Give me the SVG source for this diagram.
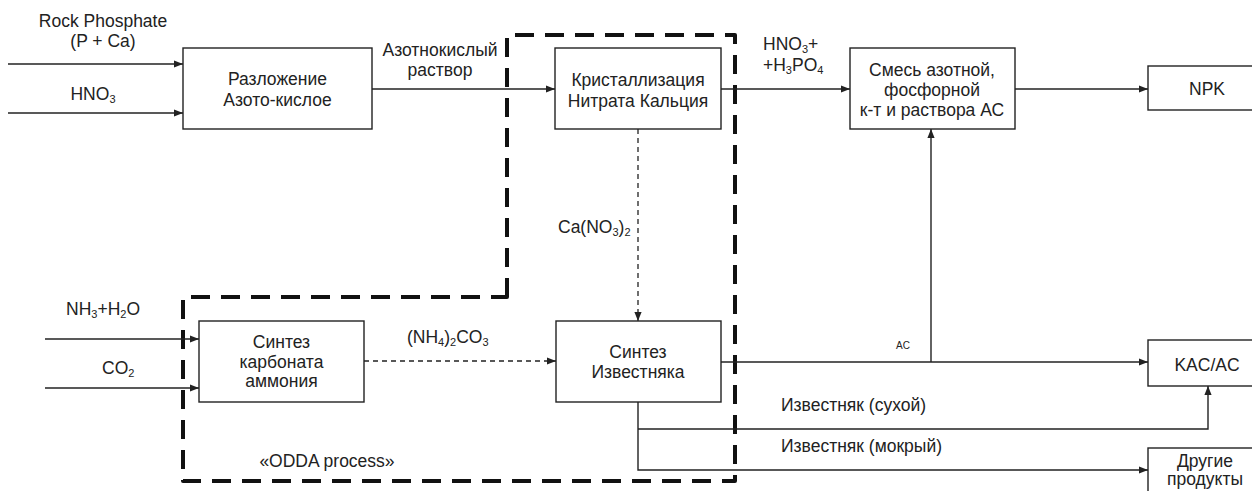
<svg xmlns="http://www.w3.org/2000/svg" width="1252" height="491" viewBox="0 0 1252 491">
<style>
text{font-family:"Liberation Sans",Arial,sans-serif;font-size:17.5px;fill:#222}
.box{fill:#fff;stroke:#222;stroke-width:1.4}
.c{text-anchor:middle}
.ln{fill:none;stroke:#222;stroke-width:1.4}
.dl{fill:none;stroke:#222;stroke-width:1.3;stroke-dasharray:5 4}
.sub{font-size:11px}
.sm{font-size:10px}
</style>
<defs>
<marker id="ah" viewBox="0 0 10 10" refX="10" refY="5" markerWidth="9" markerHeight="9" markerUnits="userSpaceOnUse" orient="auto">
<path d="M0,1 L10,5 L0,9 Z" fill="#222"/>
</marker>
</defs>
<rect width="1252" height="491" fill="#fff"/>

<g id="boundary">
<path d="M507,297 L507,35 L735,35 L735,481 L183,481 L183,297 Z" fill="none" stroke="#111" stroke-width="4" stroke-dasharray="19 11" stroke-linejoin="round"/>
<text class="c" x="327" y="467">«ODDA process»</text>
</g>

<g id="connectors">
<path class="ln" d="M8,64 L183,64" marker-end="url(#ah)"/>
<path class="ln" d="M8,113 L183,113" marker-end="url(#ah)"/>
<path class="ln" d="M372,89 L555,89" marker-end="url(#ah)"/>
<path class="ln" d="M721,89 L850,89" marker-end="url(#ah)"/>
<path class="ln" d="M1015,89 L1148,89" marker-end="url(#ah)"/>
<path class="dl" d="M638,129 L638,321" marker-end="url(#ah)"/>
<path class="ln" d="M45,339 L199,339" marker-end="url(#ah)"/>
<path class="ln" d="M45,388 L199,388" marker-end="url(#ah)"/>
<path class="dl" d="M364,361 L556,361" marker-end="url(#ah)"/>
<path class="ln" d="M721,362 L1148,362" marker-end="url(#ah)"/>
<path class="ln" d="M931,362 L931,129" marker-end="url(#ah)"/>
<path class="ln" d="M638,402 L638,470 L1148,470" marker-end="url(#ah)"/>
<path class="ln" d="M638,429 L1208,429 L1208,386" marker-end="url(#ah)"/>
<text class="c" x="103" y="27">Rock Phosphate</text>
<text class="c" x="103" y="47">(P + Ca)</text>
<text class="c" x="93" y="100">HNO<tspan class="sub" dy="3">3</tspan></text>
<text class="c" x="440" y="56">Азотнокислый</text>
<text class="c" x="440" y="76">раствор</text>
<text x="763" y="50">HNO<tspan class="sub" dy="3">3</tspan><tspan dy="-3">+</tspan></text>
<text x="763" y="71">+H<tspan class="sub" dy="3">3</tspan><tspan dy="-3">PO</tspan><tspan class="sub" dy="3">4</tspan></text>
<text x="558" y="233">Ca(NO<tspan class="sub" dy="3">3</tspan><tspan dy="-3">)</tspan><tspan class="sub" dy="3">2</tspan></text>
<text x="66" y="315">NH<tspan class="sub" dy="3">3</tspan><tspan dy="-3">+H</tspan><tspan class="sub" dy="3">2</tspan><tspan dy="-3">O</tspan></text>
<text x="102" y="374">CO<tspan class="sub" dy="3">2</tspan></text>
<text x="407" y="343">(NH<tspan class="sub" dy="3">4</tspan><tspan dy="-3">)</tspan><tspan class="sub" dy="3">2</tspan><tspan dy="-3">CO</tspan><tspan class="sub" dy="3">3</tspan></text>
<text class="c sm" x="903" y="349">AC</text>
<text x="781" y="411">Известняк (сухой)</text>
<text x="781" y="452">Известняк (мокрый)</text>
</g>

<g id="n-razlozhenie">
<rect class="box" x="183" y="48" width="189" height="81"/>
<text class="c" x="277.5" y="85">Разложение</text>
<text class="c" x="277.5" y="106">Азото-кислое</text>
</g>

<g id="n-kristall">
<rect class="box" x="555" y="48" width="166" height="81"/>
<text class="c" x="638" y="86">Кристаллизация</text>
<text class="c" x="638" y="107">Нитрата Кальция</text>
</g>

<g id="n-smes">
<rect class="box" x="850" y="48" width="165" height="81"/>
<text class="c" x="932" y="76">Смесь азотной,</text>
<text class="c" x="932" y="96">фосфорной</text>
<text class="c" x="932" y="116">к-т и раствора АС</text>
</g>

<g id="n-npk">
<rect class="box" x="1148" y="66" width="110" height="44"/>
<text class="c" x="1207" y="95">NPK</text>
</g>

<g id="n-karbonat">
<rect class="box" x="199" y="321" width="165" height="81"/>
<text class="c" x="281.5" y="348">Синтез</text>
<text class="c" x="281.5" y="368">карбоната</text>
<text class="c" x="281.5" y="387">аммония</text>
</g>

<g id="n-izvestnyak">
<rect class="box" x="556" y="321" width="165" height="81"/>
<text class="c" x="638" y="358">Синтез</text>
<text class="c" x="638" y="378">Известняка</text>
</g>

<g id="n-kas">
<rect class="box" x="1148" y="340" width="110" height="46"/>
<text class="c" x="1207" y="371">KAC/AC</text>
</g>

<g id="n-drugie">
<rect class="box" x="1148" y="448" width="110" height="60"/>
<text class="c" x="1205" y="467">Другие</text>
<text class="c" x="1205" y="485">продукты</text>
</g>
</svg>
